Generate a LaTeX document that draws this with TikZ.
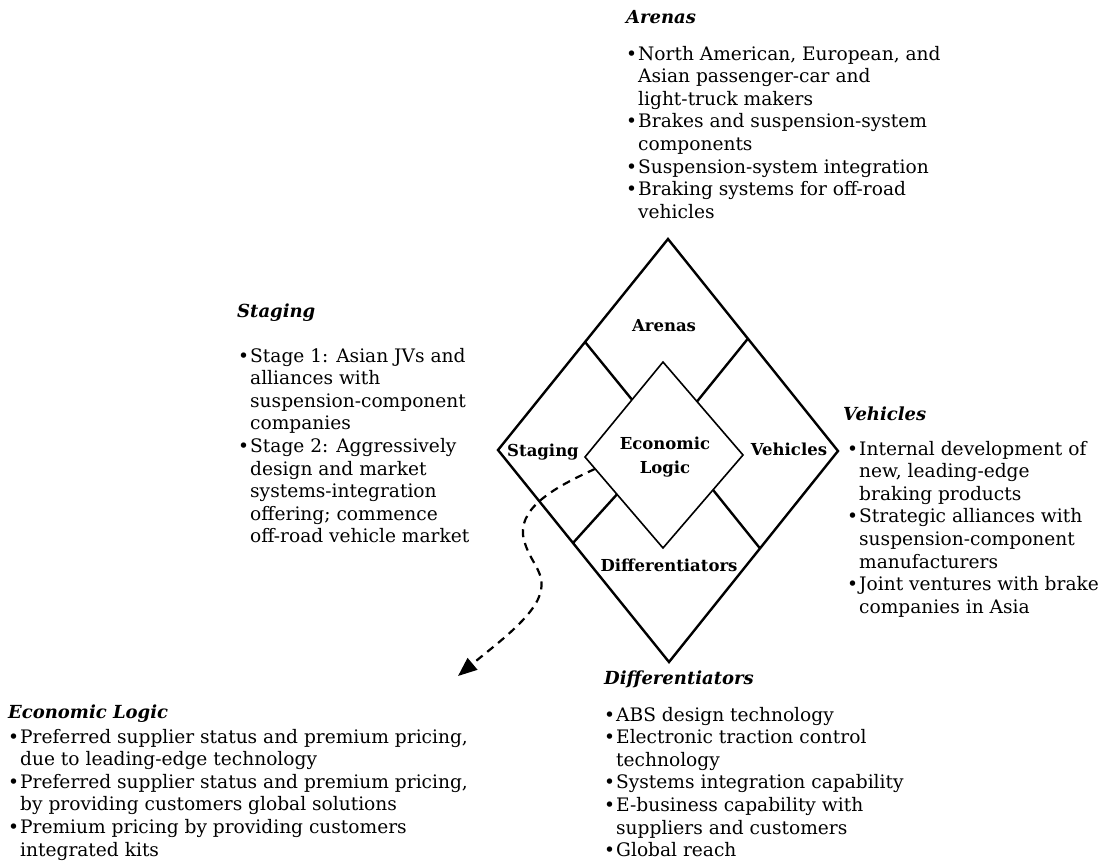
\documentclass[tikz,border=0pt]{standalone}
\usepackage{fontspec}
\setmainfont{DejaVu Serif}
\usetikzlibrary{arrows.meta,calc}
\newcommand\bodyfont{\fontsize{18.6}{22.6}\selectfont}
\newcommand\bu{\makebox[12pt][l]{\textbullet}}
\newcommand\ii{\hspace*{12pt}}
\newcommand\blist[1]{\bodyfont\begin{tabular}[t]{@{}l@{}}#1\end{tabular}}
\newcommand\clist[1]{\fontsize{16.5}{24}\selectfont\bfseries\begin{tabular}[t]{@{}c@{}}#1\end{tabular}}
\begin{document}
\begin{tikzpicture}[x=1pt,y=-1pt,
  blk/.style={anchor=base west, inner sep=0pt},
  head/.style={anchor=base west, inner sep=0pt, font=\fontsize{18}{20}\selectfont\bfseries\itshape},
  lab/.style={anchor=base, inner sep=0pt, font=\fontsize{16.5}{24}\selectfont\bfseries},
  outer/.style={line width=2.4pt, line join=miter},
  inner/.style={line width=1.6pt, line join=miter},
  conn/.style={line width=2.4pt},
  flow/.style={line width=2.2pt, dash pattern=on 8pt off 6pt, -{Triangle[length=19pt,width=15pt]}}
]
\useasboundingbox (0,0) rectangle (1120,863);
% diamonds
\coordinate (OT) at (668,239);
\coordinate (OR) at (838,451);
\coordinate (OB) at (669,662);
\coordinate (OL) at (498,450);
\coordinate (IT) at (663,362);
\coordinate (IR) at (743,455);
\coordinate (IB) at (663,548);
\coordinate (IL) at (585,457);
\draw[outer] (OT) -- (OR) -- (OB) -- (OL) -- cycle;
\draw[inner] (IT) -- (IR) -- (IB) -- (IL) -- cycle;
\coordinate (c1a) at ($(OL)!0.512!(OT)$);
\coordinate (c1b) at ($(IL)!0.603!(IT)$);
\coordinate (c2a) at ($(OT)!0.47!(OR)$);
\coordinate (c2b) at ($(IT)!0.425!(IR)$);
\coordinate (c3a) at ($(OL)!0.4386!(OB)$);
\coordinate (c3b) at ($(IL)!0.41!(IB)$);
\coordinate (c4a) at ($(OR)!0.4615!(OB)$);
\coordinate (c4b) at ($(IR)!0.375!(IB)$);
\draw[conn] (c1a) -- (c1b);
\draw[conn] (c2a) -- (c2b);
\draw[conn] (c3a) -- (c3b);
\draw[conn] (c4a) -- (c4b);
% labels
\node[lab] (lA) at (664,331) {Arenas};
\node[lab] (lS) at (543,456) {Staging};
\node[lab] (lV) at (789,455) {Vehicles};
\node[lab] (lD) at (669,571) {Differentiators};
\node[anchor=base, inner sep=0pt] (lE) at (665,449) {\clist{Economic\\Logic}};
% dashed arrow
\coordinate (dS) at ($(IL)!0.13!(IB)$);
\coordinate (dE) at (458,676);
\draw[flow] (dS) .. controls (560,485) and (520,505) .. (523,535) .. controls (527,560) and (545,570) .. (541,590) .. controls (537,615) and (495,645) .. (dE);
% text blocks
\node[head] (hA) at (626,23) {Arenas};
\node[blk] (tA) at (626,60) {\blist{\bu North American, European, and\\ \ii Asian passenger-car and\\ \ii light-truck makers\\ \bu Brakes and suspension-system\\ \ii components\\ \bu Suspension-system integration\\ \bu Braking systems for off-road\\ \ii vehicles}};
\node[head] (hS) at (237,317) {Staging};
\node[blk] (tS) at (238,362) {\blist{\bu Stage 1: Asian JVs and\\ \ii alliances with\\ \ii suspension-component\\ \ii companies\\ \bu Stage 2: Aggressively\\ \ii design and market\\ \ii systems-integration\\ \ii offering; commence\\ \ii off-road vehicle market}};
\node[head] (hV) at (843,420) {Vehicles};
\node[blk] (tV) at (847,455) {\blist{\bu Internal development of\\ \ii new, leading-edge\\ \ii braking products\\ \bu Strategic alliances with\\ \ii suspension-component\\ \ii manufacturers\\ \bu Joint ventures with brake\\ \ii companies in Asia}};
\node[head] (hD) at (604,684) {Differentiators};
\node[blk] (tD) at (604,721) {\blist{\bu ABS design technology\\ \bu Electronic traction control\\ \ii technology\\ \bu Systems integration capability\\ \bu E-business capability with\\ \ii suppliers and customers\\ \bu Global reach}};
\node[head] (hE) at (8,718) {Economic Logic};
\node[blk] (tE) at (8,743) {\blist{\bu Preferred supplier status and premium pricing,\\ \ii due to leading-edge technology\\ \bu Preferred supplier status and premium pricing,\\ \ii by providing customers global solutions\\ \bu Premium pricing by providing customers\\ \ii integrated kits}};
\end{tikzpicture}
\end{document}
